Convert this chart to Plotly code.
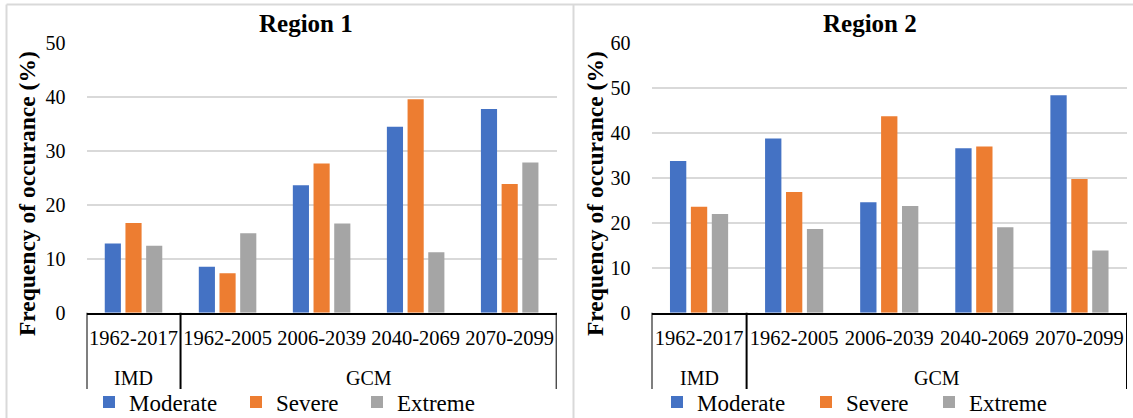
import plotly.graph_objects as go
from plotly.subplots import make_subplots

groups = ["IMD", "GCM", "GCM", "GCM", "GCM"]
periods = ["1962-2017", "1962-2005", "2006-2039", "2040-2069", "2070-2099"]
series_names = ["Moderate", "Severe", "Extreme"]
colors = ["#4472C4", "#ED7D31", "#A5A5A5"]

region1_moderate = [12.8, 8.5, 23.6, 34.4, 37.7]
region1_severe = [16.6, 7.3, 27.6, 39.5, 23.8]
region1_extreme = [12.4, 14.7, 16.5, 11.2, 27.8]

region2_moderate = [33.7, 38.7, 24.5, 36.5, 48.3]
region2_severe = [23.5, 26.8, 43.6, 36.9, 29.7]
region2_extreme = [21.9, 18.6, 23.7, 19.0, 13.8]

titles = ["Region 1", "Region 2"]
y_title = "Frequency of occurance (%)"
y_ranges = [[0, 50], [0, 60]]

W, H = 1133, 418
FONT = "Liberation Serif, Times New Roman, serif"

def px_x(v):
    return v / W

def px_y(v):
    return 1 - v / H

fig = make_subplots(rows=1, cols=2)

region_data = [
    [region1_moderate, region1_severe, region1_extreme],
    [region2_moderate, region2_severe, region2_extreme],
]
# legend item start positions (px) for each panel / series
legend_starts = [[89, 236, 357], [657, 806, 929]]

legend_layouts = {}
for ci, data in enumerate(region_data):
    for si, vals in enumerate(data):
        idx = ci * 3 + si + 1
        lname = "legend" if idx == 1 else "legend%d" % idx
        fig.add_trace(
            go.Bar(
                x=periods,
                y=vals,
                name=series_names[si],
                marker=dict(color=colors[si], line=dict(width=0)),
                legend=lname,
                showlegend=True,
            ),
            row=1, col=ci + 1,
        )
        legend_layouts[lname] = dict(
            orientation="h", x=px_x(legend_starts[ci][si]), y=px_y(402),
            xanchor="left", yanchor="middle",
            font=dict(family=FONT, size=23, color="black"), bgcolor="rgba(0,0,0,0)",
            borderwidth=0, itemclick=False, itemdoubleclick=False,
        )

x_domains = [[px_x(86.5), px_x(556.7)], [px_x(651.5), px_x(1127)]]
y_domain = [px_y(312.7), px_y(42.5)]

for ci in range(2):
    xa = "xaxis" if ci == 0 else "xaxis2"
    ya = "yaxis" if ci == 0 else "yaxis2"
    fig.layout[xa].update(
        domain=x_domains[ci],
        type="category",
        range=[-0.5, len(periods) - 0.5],
        showline=True, linecolor="black", linewidth=2,
        showgrid=False, ticks="", tickangle=0,
        ticklabelstandoff=6,
        tickfont=dict(family=FONT, size=20.5, color="black"),
        automargin=False,
    )
    fig.layout[ya].update(
        domain=y_domain,
        range=y_ranges[ci],
        dtick=10,
        showgrid=True, gridcolor="#D9D9D9", gridwidth=1.5,
        zeroline=False, showline=False, ticks="",
        ticklabelstandoff=20,
        tickfont=dict(family=FONT, size=20, color="black"),
        automargin=False,
    )

fig.update_layout(
    width=W, height=H,
    margin=dict(l=0, r=0, t=0, b=0, autoexpand=False),
    paper_bgcolor="white", plot_bgcolor="white",
    barmode="group", bargap=0.34, bargroupgap=0.22,
    font=dict(family=FONT, color="black"),
    **legend_layouts,
)

# group labels and dividers (from the group list)
bounds = [0]
for i in range(1, len(groups)):
    if groups[i] != groups[i - 1]:
        bounds.append(i)
bounds.append(len(groups))

for ci in range(2):
    xr = "x" if ci == 0 else "x2"
    for b in bounds:
        fig.add_shape(type="line", xref=xr, yref="paper", x0=b - 0.5, x1=b - 0.5,
                      y0=px_y(312.7), y1=px_y(389), line=dict(color="black", width=2))
    for k in range(len(bounds) - 1):
        s, e = bounds[k], bounds[k + 1]
        fig.add_annotation(text=groups[s], xref=xr, yref="paper",
                           x=(s + e - 1) / 2, y=px_y(378), xanchor="center", yanchor="middle",
                           showarrow=False, font=dict(family=FONT, size=20, color="black"))

# chart titles and y-axis titles
title_x = [306, 870]
ytitle_x = [27, 595]
for ci in range(2):
    fig.add_annotation(text="<b>%s</b>" % titles[ci], xref="paper", yref="paper",
                       x=px_x(title_x[ci]), y=px_y(24), xanchor="center", yanchor="middle",
                       showarrow=False, font=dict(family=FONT, size=25, color="black"))
    fig.add_annotation(text="<b>%s</b>" % y_title, xref="paper", yref="paper",
                       x=px_x(ytitle_x[ci]), y=px_y(194), xanchor="center", yanchor="middle",
                       textangle=-90, showarrow=False,
                       font=dict(family=FONT, size=23.5, color="black"))

# panel borders
border = dict(color="#D9D9D9", width=2)
fig.add_shape(type="line", xref="paper", yref="paper", x0=px_x(6.5), x1=1, y0=px_y(4.5), y1=px_y(4.5), line=border)
fig.add_shape(type="line", xref="paper", yref="paper", x0=px_x(6.5), x1=px_x(6.5), y0=px_y(4.5), y1=0, line=border)
fig.add_shape(type="line", xref="paper", yref="paper", x0=px_x(573.5), x1=px_x(573.5), y0=px_y(4.5), y1=0, line=border)

fig.write_html("out.html")
